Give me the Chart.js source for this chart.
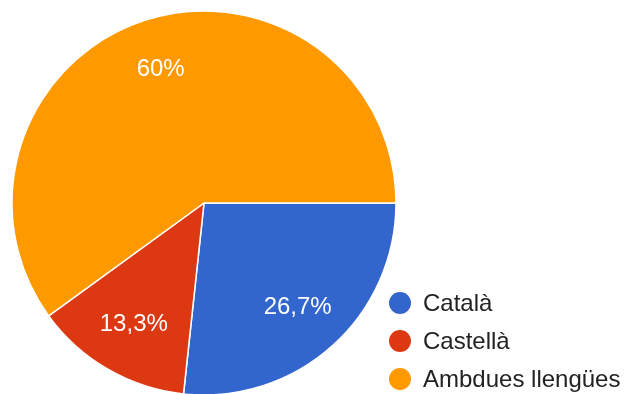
<!DOCTYPE html>
<html>
<head>
<meta charset="utf-8">
<style>
  html, body { margin: 0; padding: 0; background: #fff; overflow: hidden; }
  #wrap { position: relative; width: 624px; height: 394px; }
</style>
<script src="https://cdn.jsdelivr.net/npm/chart.js@4/dist/chart.umd.min.js"></script>
</head>
<body>
<div id="wrap"><canvas id="chart" width="624" height="394"></canvas></div>
<script>
const labels = ['Català', 'Castellà', 'Ambdues llengües'];
const shares = [26.7, 13.3, 60];
const colors = ['#3366cc', '#dc3912', '#ff9900'];

const FONT = '"Liberation Sans", Arial, sans-serif';

// percent text inside each slice
const sliceLabels = {
  id: 'sliceLabels',
  afterDatasetsDraw(chart) {
    const ctx = chart.ctx;
    const meta = chart.getDatasetMeta(0);
    const values = chart.data.datasets[0].data;
    ctx.save();
    ctx.fillStyle = '#fff';
    ctx.font = '24px ' + FONT;
    ctx.textAlign = 'center';
    ctx.textBaseline = 'middle';
    meta.data.forEach((arc, i) => {
      const { x, y, startAngle, endAngle, outerRadius } = arc.getProps(['x', 'y', 'startAngle', 'endAngle', 'outerRadius'], true);
      const mid = (startAngle + endAngle) / 2;
      const r = outerRadius * 0.73;
      const txt = String(values[i]).replace('.', ',') + '%';
      ctx.fillText(txt, x + Math.cos(mid) * r, y + Math.sin(mid) * r);
    });
    ctx.restore();
  }
};

// legend at the bottom right, dots + names
const sideLegend = {
  id: 'sideLegend',
  afterDraw(chart) {
    const ctx = chart.ctx;
    const ds = chart.data.datasets[0];
    ctx.save();
    ctx.font = '24px ' + FONT;
    ctx.textAlign = 'left';
    ctx.textBaseline = 'middle';
    chart.data.labels.forEach((name, i) => {
      const cy = 303 + i * 38;
      ctx.fillStyle = ds.backgroundColor[i];
      ctx.beginPath();
      ctx.arc(400, cy, 11, 0, Math.PI * 2);
      ctx.fill();
      ctx.fillStyle = '#222';
      ctx.fillText(name, 423, cy + 1);
    });
    ctx.restore();
  }
};

new Chart(document.getElementById('chart'), {
  type: 'pie',
  data: {
    labels,
    datasets: [{
      data: shares,
      backgroundColor: colors,
      borderColor: '#fff',
      borderWidth: 1.5
    }]
  },
  options: {
    responsive: false,
    animation: false,
    rotation: 90,
    radius: 192,
    layout: { padding: { left: 0, right: 216, top: 12, bottom: 0 } },
    plugins: {
      legend: { display: false },
      tooltip: { enabled: false }
    }
  },
  plugins: [sliceLabels, sideLegend]
});
</script>
</body>
</html>
